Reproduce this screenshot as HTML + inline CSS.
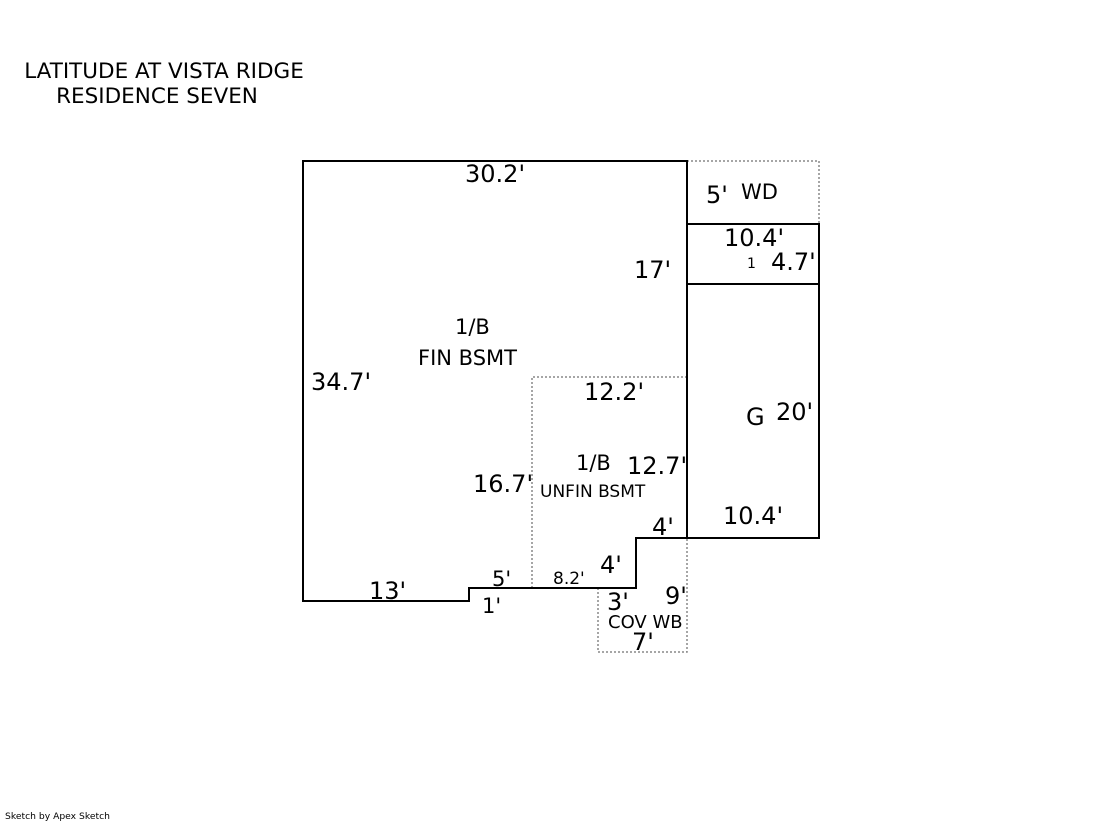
<!DOCTYPE html>
<html><head><meta charset="utf-8"><style>
body{margin:0;background:#fff;}
svg text{font-family:"DejaVu Sans","Liberation Sans",sans-serif;fill:#000;}
</style></head><body>
<svg width="1119" height="821" xmlns="http://www.w3.org/2000/svg">
<text x="164" y="78" font-size="21.5" text-anchor="middle">LATITUDE AT VISTA RIDGE</text>
<text x="157" y="103" font-size="21.5" text-anchor="middle">RESIDENCE SEVEN</text>
<g fill="none" stroke="#888" stroke-width="1.5" stroke-dasharray="2,2">
<polyline points="687,161 819,161 819,224"/>
<polyline points="532,588 532,377 687,377"/>
<polyline points="598,588 598,652 687,652 687,538"/>
</g>
<g fill="none" stroke="#000" stroke-width="2">
<polygon points="303,161 687,161 687,538 636,538 636,588 469,588 469,601 303,601"/>
<rect x="687" y="224" width="132" height="314"/>
<line x1="687" y1="284" x2="819" y2="284"/>
</g>
<g font-size="24">
<text x="465" y="182">30.2'</text>
<text x="706" y="203">5'</text>
<text x="724" y="246">10.4'</text>
<text x="771" y="270">4.7'</text>
<text x="634" y="278">17'</text>
<text x="311" y="390">34.7'</text>
<text x="584" y="400">12.2'</text>
<text x="776" y="420">20'</text>
<text x="746" y="425">G</text>
<text x="627" y="474">12.7'</text>
<text x="473" y="492">16.7'</text>
<text x="723" y="524">10.4'</text>
<text x="652" y="535">4'</text>
<text x="600" y="573">4'</text>
<text x="369" y="599">13'</text>
<text x="607" y="610">3'</text>
<text x="665" y="604">9'</text>
<text x="632" y="650">7'</text>
</g>
<g font-size="21">
<text x="741" y="199">WD</text>
<text x="455" y="334">1/B</text>
<text x="418" y="365">FIN BSMT</text>
<text x="576" y="470">1/B</text>
<text x="492" y="586">5'</text>
<text x="482" y="613">1'</text>
</g>
<g font-size="17">
<text x="540" y="497">UNFIN BSMT</text>
<text x="553" y="584">8.2'</text>
<text x="608" y="628" font-size="18">COV WB</text>
<text x="747" y="268" font-size="14">1</text>
</g>
<text x="5" y="819" font-size="9.2">Sketch by Apex Sketch</text>
</svg>
</body></html>
